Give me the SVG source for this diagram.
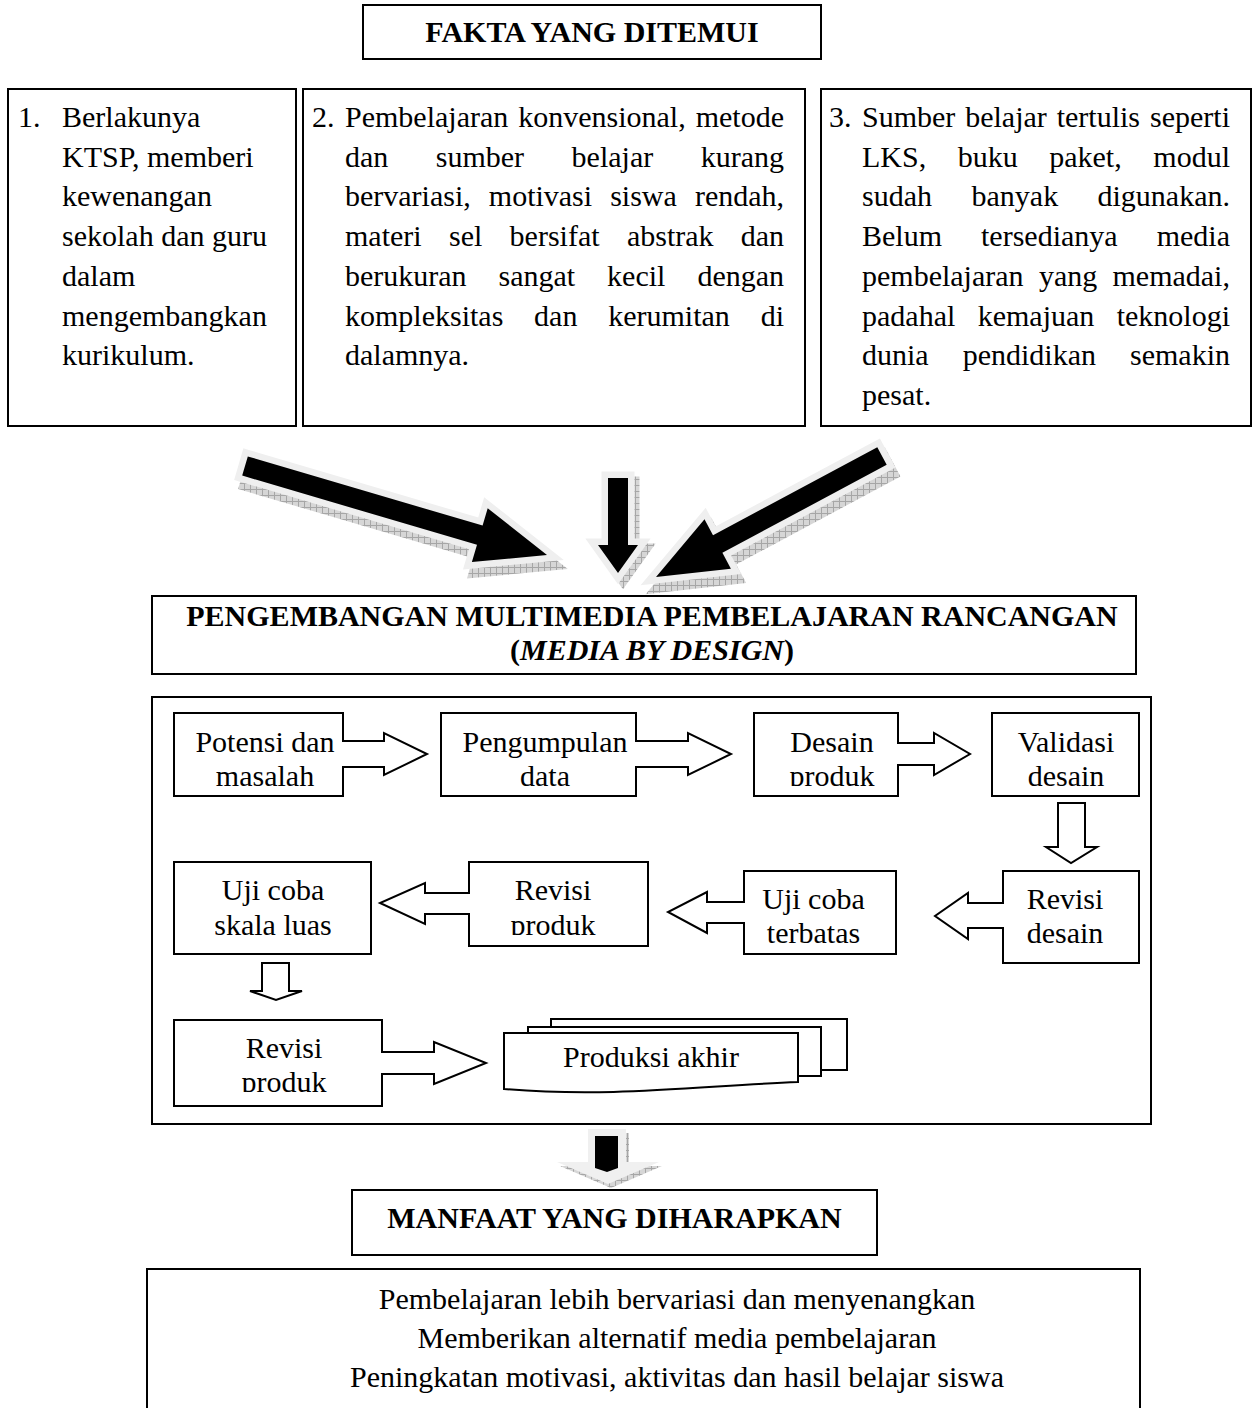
<svg xmlns="http://www.w3.org/2000/svg" width="1254" height="1420" viewBox="0 0 1254 1420">
<defs>
<style>
.box{fill:#fff;stroke:#000;stroke-width:2}
.ln{fill:none;stroke:#000;stroke-width:2}
.t{font-family:"Liberation Serif","Times New Roman",serif;font-size:30px;fill:#000}
.b{font-weight:bold}
.c{text-anchor:middle}
.halo{fill:#000;stroke:#efefef;stroke-width:13;paint-order:stroke;stroke-linejoin:miter;stroke-miterlimit:6}
.shadow{fill:url(#hatch);stroke:url(#hatch);stroke-width:13;stroke-linejoin:miter;stroke-miterlimit:6}
</style>
<pattern id="hatch" width="6" height="6" patternUnits="userSpaceOnUse">
<rect width="6" height="6" fill="#d6d6d6"/>
<path d="M0,0.5H6M0.5,0V6" stroke="#a6a6a6" stroke-width="1"/>
</pattern>
<clipPath id="clipN3"><rect x="754" y="713" width="144" height="73"/></clipPath>
<clipPath id="clipN7"><rect x="469" y="862" width="179" height="73"/></clipPath>
<clipPath id="clipN9"><rect x="174" y="1020" width="208" height="72"/></clipPath>
<polygon id="arrL" points="247.8,456.4 482.6,525.6 487.7,508.3 547,555 471.9,562.1 477,544.8 242.2,475.6"/>
<polygon id="arrM" points="608,478 628,478 628,545 638,545 618,573 598,545 608,545"/>
<polygon id="arrR" points="877.3,447.2 713,535.2 704.5,519.3 656,577 730.9,568.7 722.4,552.8 886.7,464.8"/>
</defs>
<rect width="1254" height="1420" fill="#fff"/>

<g id="fakta">
<rect class="box" x="363" y="5" width="458" height="54"/>
<text class="t b c" x="592" y="42">FAKTA YANG DITEMUI</text>
</g>

<g id="fakta1">
<rect class="box" x="8" y="89" width="288" height="337"/>
<text class="t" x="18" y="127">1.</text>
<text class="t" x="62" y="127">Berlakunya</text>
<text class="t" x="62" y="166.7">KTSP, memberi</text>
<text class="t" x="62" y="206.4">kewenangan</text>
<text class="t" x="62" y="246.1">sekolah dan guru</text>
<text class="t" x="62" y="285.8">dalam</text>
<text class="t" x="62" y="325.5">mengembangkan</text>
<text class="t" x="62" y="365.2">kurikulum.</text>
</g>

<g id="fakta2">
<rect class="box" x="303" y="89" width="502" height="337"/>
<text class="t" x="312" y="127">2.</text>
<text class="t" y="127"><tspan x="345">Pembelajaran</tspan><tspan x="518.2">konvensional,</tspan><tspan x="695.7">metode</tspan></text>
<text class="t" y="166.7"><tspan x="345">dan</tspan><tspan x="435.8">sumber</tspan><tspan x="571.6">belajar</tspan><tspan x="700.7">kurang</tspan></text>
<text class="t" y="206.4"><tspan x="345">bervariasi,</tspan><tspan x="488.8">motivasi</tspan><tspan x="610.2">siswa</tspan><tspan x="694.9">rendah,</tspan></text>
<text class="t" y="246.1"><tspan x="345">materi</tspan><tspan x="449">sel</tspan><tspan x="509.6">bersifat</tspan><tspan x="626.9">abstrak</tspan><tspan x="740.8">dan</tspan></text>
<text class="t" y="285.8"><tspan x="345">berukuran</tspan><tspan x="498.5">sangat</tspan><tspan x="607.1">kecil</tspan><tspan x="697.4">dengan</tspan></text>
<text class="t" y="325.5"><tspan x="345">kompleksitas</tspan><tspan x="534.1">dan</tspan><tspan x="608.2">kerumitan</tspan><tspan x="760.7">di</tspan></text>
<text class="t" x="345" y="365.2">dalamnya.</text>
</g>

<g id="fakta3">
<rect class="box" x="821" y="89" width="430" height="337"/>
<text class="t" x="829" y="127">3.</text>
<text class="t" y="127"><tspan x="862">Sumber</tspan><tspan x="965.2">belajar</tspan><tspan x="1056.7">tertulis</tspan><tspan x="1150">seperti</tspan></text>
<text class="t" y="166.7"><tspan x="862">LKS,</tspan><tspan x="957.7">buku</tspan><tspan x="1049.2">paket,</tspan><tspan x="1153.3">modul</tspan></text>
<text class="t" y="206.4"><tspan x="862">sudah</tspan><tspan x="971.5">banyak</tspan><tspan x="1097.5">digunakan.</tspan></text>
<text class="t" y="246.1"><tspan x="862">Belum</tspan><tspan x="981">tersedianya</tspan><tspan x="1156.7">media</tspan></text>
<text class="t" y="285.8"><tspan x="862">pembelajaran</tspan><tspan x="1038.9">yang</tspan><tspan x="1112.5">memadai,</tspan></text>
<text class="t" y="325.5"><tspan x="862">padahal</tspan><tspan x="977.7">kemajuan</tspan><tspan x="1116.7">teknologi</tspan></text>
<text class="t" y="365.2"><tspan x="862">dunia</tspan><tspan x="962.7">pendidikan</tspan><tspan x="1130">semakin</tspan></text>
<text class="t" x="862" y="404.9">pesat.</text>
</g>

<g id="pengembangan">
<rect class="box" x="152" y="596" width="984" height="78"/>
<text class="t b c" x="652" y="626">PENGEMBANGAN MULTIMEDIA PEMBELAJARAN RANCANGAN</text>
<text class="t b c" x="652" y="660">(<tspan font-style="italic">MEDIA BY DESIGN</tspan>)</text>
</g>

<g id="proses">
<rect class="box" x="152" y="697" width="999" height="427"/>
</g>

<g id="n1">
<path class="box" d="M174,713 H343 V741 H384 V733 L427,754 L384,775 V767 H343 V796 H174 Z"/>
<text class="t c" x="265" y="752">Potensi dan</text>
<text class="t c" x="265" y="786">masalah</text>
</g>
<g id="n2">
<path class="box" d="M441,713 H636 V741 H688 V733 L731,754 L688,775 V767 H636 V796 H441 Z"/>
<text class="t c" x="545" y="752">Pengumpulan</text>
<text class="t c" x="545" y="786">data</text>
</g>
<g id="n3">
<path class="box" d="M754,713 H898 V743 H934 V733 L970,754 L934,775 V765 H898 V796 H754 Z"/>
<text class="t c" x="832" y="752">Desain</text>
<text class="t c" x="832" y="786" clip-path="url(#clipN3)">produk</text>
</g>
<g id="n4">
<rect class="box" x="992" y="713" width="147" height="83"/>
<text class="t c" x="1066" y="752">Validasi</text>
<text class="t c" x="1066" y="786">desain</text>
</g>
<g id="n5">
<path class="box" d="M1003,871 H1139 V963 H1003 V928 H968 V939 L935,916 L968,893 V903 H1003 Z"/>
<text class="t c" x="1065" y="909">Revisi</text>
<text class="t c" x="1065" y="943">desain</text>
</g>
<g id="n6">
<path class="box" d="M744,871 H896 V954 H744 V923 H707 V933 L668,912 L707,892 V902 H744 Z"/>
<text class="t c" x="813.5" y="909">Uji coba</text>
<text class="t c" x="813.5" y="943">terbatas</text>
</g>
<g id="n7">
<path class="box" d="M469,862 H648 V946 H469 V914 H425 V924 L380,903 L425,883 V893 H469 Z"/>
<text class="t c" x="553" y="900">Revisi</text>
<text class="t c" x="553" y="935" clip-path="url(#clipN7)">produk</text>
</g>
<g id="n8">
<rect class="box" x="174" y="862" width="197" height="92"/>
<text class="t c" x="273" y="900">Uji coba</text>
<text class="t c" x="273" y="935">skala luas</text>
</g>
<g id="n9">
<path class="box" d="M174,1020 H382 V1052 H434 V1042 L486,1063 L434,1084 V1074 H382 V1106 H174 Z"/>
<text class="t c" x="284" y="1058">Revisi</text>
<text class="t c" x="284" y="1092" clip-path="url(#clipN9)">produk</text>
</g>
<g id="n10">
<rect class="box" x="551" y="1019" width="296" height="51"/>
<rect class="box" x="528" y="1027" width="293" height="49"/>
<path class="box" d="M504,1033 H798 V1082 C700,1086 610,1098 504,1089 Z"/>
<text class="t c" x="651" y="1067">Produksi akhir</text>
</g>

<g id="manfaat">
<rect class="box" x="352" y="1190" width="525" height="65"/>
<text class="t b c" x="614.5" y="1228">MANFAAT YANG DIHARAPKAN</text>
</g>

<g id="manfaat-isi">
<path class="ln" d="M147,1408 V1269 H1140 V1408"/>
<text class="t c" x="677" y="1308.5">Pembelajaran lebih bervariasi dan menyenangkan</text>
<text class="t c" x="677" y="1347.5">Memberikan alternatif media pembelajaran</text>
<text class="t c" x="677" y="1386.5">Peningkatan motivasi, aktivitas dan hasil belajar siswa</text>
</g>

<g id="connectors">
<use href="#arrL" class="shadow" transform="translate(4,9)"/>
<use href="#arrL" class="halo"/>
<use href="#arrM" class="shadow" transform="translate(5,5)"/>
<use href="#arrM" class="halo"/>
<use href="#arrR" class="shadow" transform="translate(5,9)"/>
<use href="#arrR" class="halo"/>
<path class="box" d="M1058,803 H1085 V847 H1097 L1071,863 L1046,847 H1058 Z"/>
<path class="box" d="M262,963 H289 V991 H302 L276,1000 L250,991 H262 Z"/>
<path d="M588,1129 H626 V1162 H659 L608,1184 L557,1162 H588 Z" fill="url(#hatch)" transform="translate(3,4)"/>
<path d="M588,1129 H626 V1162 H659 L608,1184 L557,1162 H588 Z" fill="#f0f0f0"/>
<path d="M595,1136 H618 V1168 L607,1172 L595,1168 Z" fill="#000"/>
</g>
</svg>
